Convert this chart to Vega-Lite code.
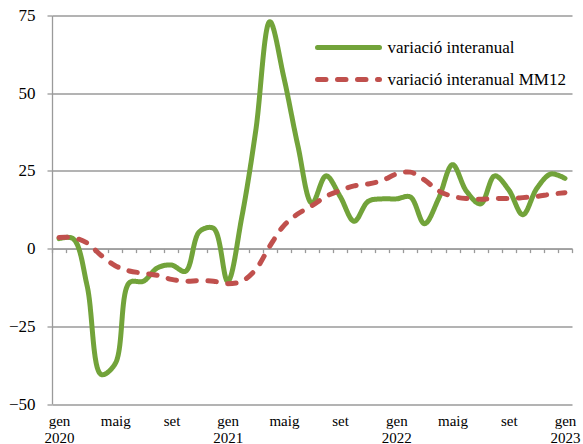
{
  "$schema": "https://vega.github.io/schema/vega-lite/v6.json",
  "width": 520,
  "height": 388.5,
  "autosize": {"type": "none"},
  "padding": {"left": 52, "top": 15.5, "right": 11, "bottom": 40},
  "background": "white",
  "config": {"view": {"stroke": null}, "font": "Liberation Serif",
    "axis": {"labelFont": "Liberation Serif", "labelColor": "#000"},
    "legend": {"labelFont": "Liberation Serif"}},
  "data": {"values": [
    {"m":0,"g":3.2,"r":3.6},{"m":1,"g":3.2,"r":3.5},{"m":2,"g":-12,"r":1.8},{"m":3,"g":-40.5,"r":-2.2},
    {"m":4,"g":-37,"r":-5.5},{"m":5,"g":-11,"r":-7.2},{"m":6,"g":-10.5,"r":-7.9},{"m":7,"g":-6.2,"r":-8.6},
    {"m":8,"g":-5.3,"r":-9.9},{"m":9,"g":-7.3,"r":-10.5},{"m":10,"g":5.5,"r":-10.3},{"m":11,"g":6.5,"r":-10.5},
    {"m":12,"g":-10.5,"r":-11.3},{"m":13,"g":10,"r":-10.5},{"m":14,"g":38,"r":-6.7},{"m":15,"g":73,"r":0.8},
    {"m":16,"g":55,"r":7.4},{"m":17,"g":33,"r":11.2},{"m":18,"g":14.6,"r":13.8},{"m":19,"g":23.4,"r":16.8},
    {"m":20,"g":16.8,"r":18.7},{"m":21,"g":8.8,"r":20.2},{"m":22,"g":15.2,"r":20.8},{"m":23,"g":16,"r":21.9},
    {"m":24,"g":16,"r":24.0},{"m":25,"g":16.6,"r":24.6},{"m":26,"g":8.0,"r":22.1},{"m":27,"g":16,"r":18.6},
    {"m":28,"g":27,"r":16.8},{"m":29,"g":18.4,"r":16.1},{"m":30,"g":14.4,"r":15.9},{"m":31,"g":23.4,"r":16.1},
    {"m":32,"g":18.9,"r":16.1},{"m":33,"g":10.9,"r":16.4},{"m":34,"g":19.4,"r":16.8},{"m":35,"g":24,"r":17.5},
    {"m":36,"g":22.6,"r":18.0}
  ]},
  "layer": [
    {
      "mark": {"type": "line", "interpolate": "catmull-rom", "strokeWidth": 5, "strokeCap": "round"},
      "encoding": {
        "x": {"field": "m", "type": "quantitative",
          "scale": {"domain": [-0.5, 36.5], "nice": false, "zero": false},
          "axis": {"orient": "bottom", "values": [0,4,8,12,16,20,24,28,32,36], "ticks": false, "domain": false, "grid": false,
            "labelExpr": "datum.value % 12 == 0 ? ['gen', '' + (2020 + datum.value / 12)] : (datum.value % 12 == 4 ? 'maig' : 'set')",
            "labelFont": "Liberation Serif", "labelFontSize": 15, "labelColor": "#000", "labelPadding": 9, "labelLineHeight": 17,
            "labelFlush": false, "labelOverlap": false, "title": null}},
        "y": {"field": "g", "type": "quantitative",
          "scale": {"domain": [-50, 75], "nice": false, "zero": false},
          "axis": {"values": [-50,-25,0,25,50,75], "grid": true, "gridColor": "#9a9a9a", "gridWidth": 1.3,
            "domainColor": "#9a9a9a", "domainWidth": 1.3, "tickColor": "#9a9a9a", "tickSize": 5, "tickWidth": 1.3,
            "labelFont": "Liberation Serif", "labelFontSize": 17, "labelPadding": 12, "labelColor": "#000", "title": null}},
        "color": {"datum": "variació interanual",
          "scale": {"domain": ["variació interanual", "variació interanual MM12"], "range": ["#72A33A", "#C0504D"]},
          "legend": {"orient": "none", "legendX": 278.5, "legendY": 14, "title": null, "symbolType": "M-2,0H2",
            "symbolSize": 961, "symbolStrokeWidth": 5, "labelFont": "Liberation Serif", "labelFontSize": 17,
            "labelColor": "#000", "labelOffset": 21, "labelLimit": 300, "padding": 0, "rowPadding": 4,
            "encode": {"symbols": {"update": {"strokeCap": {"value": "round"}}}}}},
        "strokeDash": {"datum": "variació interanual",
          "scale": {"domain": ["variació interanual", "variació interanual MM12"], "range": [[1, 0], [8.5, 11.5]]}}
      }
    },
    {
      "mark": {"type": "line", "interpolate": "catmull-rom", "strokeWidth": 5, "strokeCap": "round"},
      "encoding": {
        "x": {"field": "m", "type": "quantitative",
          "axis": {"orient": "bottom", "offset": -155.4,
            "values": [-0.5,0.5,1.5,2.5,3.5,4.5,5.5,6.5,7.5,8.5,9.5,10.5,11.5,12.5,13.5,14.5,15.5,16.5,17.5,18.5,19.5,20.5,21.5,22.5,23.5,24.5,25.5,26.5,27.5,28.5,29.5,30.5,31.5,32.5,33.5,34.5,35.5,36.5],
            "labels": false, "ticks": true, "tickSize": 4, "tickColor": "#9a9a9a", "tickWidth": 1.3,
            "domain": true, "domainColor": "#9a9a9a", "domainWidth": 1.3, "grid": false, "title": null}},
        "y": {"field": "r", "type": "quantitative"},
        "color": {"datum": "variació interanual MM12"},
        "strokeDash": {"datum": "variació interanual MM12"}
      }
    }
  ],
  "resolve": {"axis": {"x": "independent"}}
}
